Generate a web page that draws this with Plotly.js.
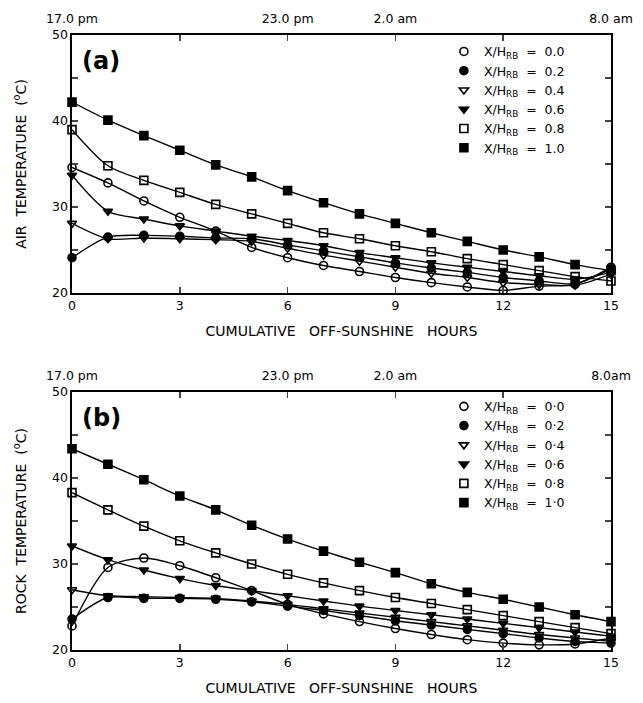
<!DOCTYPE html>
<html>
<head>
<meta charset="utf-8">
<script src="https://cdn.plot.ly/plotly-3.0.1.min.js"></script>
<style>html,body{margin:0;padding:0;background:#fff;}#chart{width:643px;height:703px;}</style>
</head>
<body>
<div id="chart"></div>
<script>
const hours = [0,1,2,3,4,5,6,7,8,9,10,11,12,13,14,15];
const xTickVals = [0,3,6,9,12,15];
const topTickVals = [0,3,6,9,12,15];
const topTickText = ['17.0 pm','','23.0 pm','2.0 am','','8.0 am'];
const topTickTextB = ['17.0 pm','','23.0 pm','2.0 am','','8.0am'];
const yTickVals = [20,25,30,35,40,45,50];
const yTickText = ['20','','30','','40','','50'];
const ratios = ['0.0','0.2','0.4','0.6','0.8','1.0'];
const ratiosB = ['0·0','0·2','0·4','0·6','0·8','1·0'];
const symbols = ['circle-open','circle','triangle-down-open','triangle-down','square-open','square'];

// (a) Air temperature
const air00 = [34.6,32.8,30.7,28.8,27.2,25.3,24.1,23.2,22.5,21.8,21.2,20.7,20.3,20.8,21.0,23.0];
const air02 = [24.1,26.5,26.7,26.6,26.4,26.3,25.6,24.9,24.2,23.5,22.9,22.4,21.8,21.4,21.1,22.8];
const air04 = [28.1,26.3,26.4,26.3,26.2,26.0,25.2,24.4,23.7,23.0,22.3,21.8,21.2,21.0,20.9,22.2];
const air06 = [33.7,29.5,28.6,27.8,27.2,26.6,26.1,25.5,24.7,24.1,23.5,23.0,22.5,22.0,21.6,22.4];
const air08 = [39.0,34.8,33.1,31.7,30.3,29.2,28.1,27.0,26.3,25.5,24.8,24.0,23.3,22.6,21.9,21.4];
const air10 = [42.2,40.1,38.3,36.6,34.9,33.5,31.9,30.5,29.2,28.1,27.0,26.0,25.0,24.2,23.3,22.6];

// (b) Rock temperature
const rock00 = [22.8,29.6,30.7,29.8,28.4,26.9,25.3,24.2,23.3,22.5,21.8,21.2,20.8,20.6,20.7,21.4];
const rock02 = [23.6,26.1,26.0,26.0,25.9,25.6,25.1,24.6,24.0,23.4,22.9,22.4,21.9,21.4,21.0,20.8];
const rock04 = [27.0,26.3,26.2,26.1,26.0,25.7,25.3,24.8,24.3,23.8,23.3,22.8,22.3,21.8,21.4,21.0];
const rock06 = [32.1,30.5,29.3,28.3,27.5,26.9,26.3,25.7,25.1,24.6,24.1,23.6,23.1,22.6,22.1,21.6];
const rock08 = [38.3,36.3,34.4,32.7,31.3,30.0,28.8,27.8,26.9,26.1,25.4,24.7,24.0,23.3,22.6,21.9];
const rock10 = [43.4,41.6,39.8,37.9,36.3,34.5,32.9,31.5,30.2,29.0,27.7,26.7,25.9,25.0,24.1,23.3];

const airSeries = [air00,air02,air04,air06,air08,air10];
const rockSeries = [rock00,rock02,rock04,rock06,rock08,rock10];

const FONT = 'DejaVu Sans, Liberation Sans, sans-serif';
const NB = '\u00A0';
const traces = [];
function addPanel(series, xa, xaTop, ya, legendId, labels){
  series.forEach((vals,i)=>{
    traces.push({x:hours, y:vals, xaxis:xa, yaxis:ya, mode:'lines',
      line:{color:'#000', width:1.4, shape:'spline', smoothing:0.8},
      showlegend:false, hoverinfo:'skip', cliponaxis:false});
  });
  series.forEach((vals,i)=>{
    traces.push({x:hours, y:vals, xaxis:xa, yaxis:ya, mode:'markers',
      marker:{symbol:symbols[i], size:8, color:'#000', line:{color:'#000', width:1.6}},
      name:'X/H<sub>RB</sub>'+NB+NB+'='+NB+NB+labels[i], legend:legendId, cliponaxis:false});
  });
  // invisible trace so that the top (clock-time) axis is drawn
  traces.push({x:hours, y:series[0], xaxis:xaTop, yaxis:ya, mode:'markers',
    marker:{opacity:0, size:1}, showlegend:false, hoverinfo:'skip'});
}
addPanel(airSeries,'x','x2','y','legend',ratios);
addPanel(rockSeries,'x3','x4','y2','legend2',ratiosB);

const tickFont = {family:FONT, size:12.5, color:'#000'};
const titleFont = {family:FONT, size:14, color:'#000'};
const xTitle = ['CUMULATIVE','OFF-SUNSHINE','HOURS'].join(NB+NB+NB);
function bottomAxis(anchor){
  return {domain:[0,1], anchor:anchor, range:[0,15], tickvals:xTickVals, ticks:'inside', ticklen:6,
    tickwidth:1.5, showline:true, linecolor:'#000', linewidth:1.6, showgrid:false, zeroline:false,
    tickfont:tickFont, fixedrange:true,
    title:{text:xTitle, font:titleFont, standoff:14}};
}
function topAxis(over, anchor, text){
  return {overlaying:over, anchor:anchor, side:'top', range:[0,15], tickmode:'array', tickvals:topTickVals,
    ticktext:text, ticks:'inside', ticklen:6, tickwidth:1.5, showline:true, linecolor:'#000', linewidth:1.6,
    showgrid:false, zeroline:false, tickfont:{family:FONT, size:12.5, color:'#000'}, ticklabelstandoff:5};
}
function yAxis(domain, anchor, title){
  return {domain:domain, anchor:anchor, range:[20,50], tickmode:'array', tickvals:yTickVals, ticktext:yTickText,
    ticks:'inside', ticklen:6, tickwidth:1.5, showline:true, linecolor:'#000', linewidth:1.6, mirror:'ticks',
    showgrid:false, zeroline:false, tickfont:tickFont,
    title:{text:title, font:titleFont, standoff:22}};
}
const legendCommon = {font:{family:FONT, size:12.5, color:'#000'}, bgcolor:'rgba(0,0,0,0)', borderwidth:0,
  tracegroupgap:0, itemwidth:30, xanchor:'left', yanchor:'top'};

const layout = {
  width:643, height:703, paper_bgcolor:'#fff', plot_bgcolor:'#fff',
  margin:{l:72, r:32, t:35, b:53},
  showlegend:true,
  xaxis: bottomAxis('y'),
  xaxis2: topAxis('x','y', topTickText),
  yaxis: yAxis([0.5805,1],'x','AIR'+NB+NB+'TEMPERATURE'+NB+NB+'(<sup>o</sup>C)'),
  xaxis3: bottomAxis('y2'),
  xaxis4: topAxis('x3','y2', topTickTextB),
  yaxis2: yAxis([0,0.4195],'x3','ROCK'+NB+NB+'TEMPERATURE'+NB+NB+'(<sup>o</sup>C)'),
  legend: Object.assign({x:0.69, y:0.997}, legendCommon),
  legend2: Object.assign({x:0.69, y:0.42}, legendCommon),
  annotations:[
    {text:'<b>(a)</b>', xref:'paper', yref:'paper', x:0.014, y:0.957, xanchor:'left', yanchor:'middle', showarrow:false, font:{family:FONT, size:24, color:'#000'}},
    {text:'<b>(b)</b>', xref:'paper', yref:'paper', x:0.014, y:0.378, xanchor:'left', yanchor:'middle', showarrow:false, font:{family:FONT, size:24, color:'#000'}}
  ]
};
Plotly.newPlot('chart', traces, layout, {staticPlot:true, displayModeBar:false});
</script>
</body>
</html>
